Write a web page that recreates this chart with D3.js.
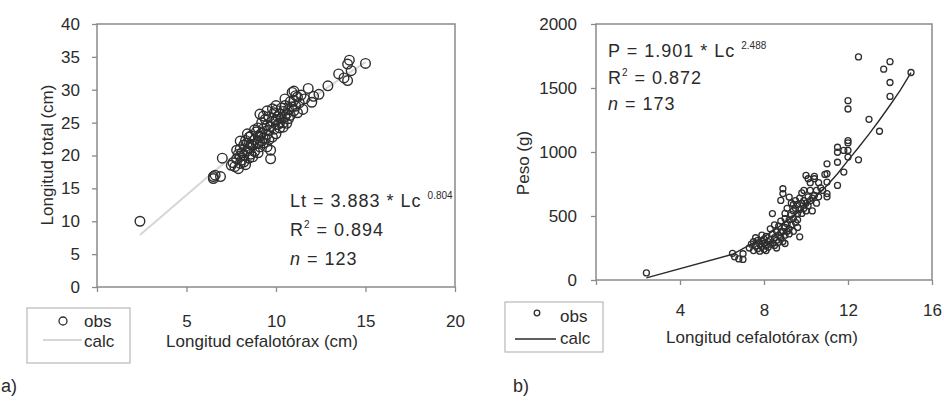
<!DOCTYPE html>
<html><head><meta charset="utf-8">
<script src="https://cdn.jsdelivr.net/npm/d3@7"></script>
<style>
html,body{margin:0;padding:0;background:#fff;}
svg text{font-family:"Liberation Sans",Arial,sans-serif;fill:#2b2b2b;}
</style></head>
<body><svg id="c" width="944" height="401"></svg>
<script>
// ---- Panel a) data : Longitud cefalotórax (Lc, cm) vs Longitud total (Lt, cm)
const aObsLc = [2.4,6.5,6.5,6.6,6.9,7.0,7.6,7.7,7.8,7.9,7.9,8.0,8.0,8.0,8.1,8.1,8.2,8.2,8.3,8.3,8.4,8.4,8.5,8.5,8.5,8.6,8.6,8.7,8.7,8.8,8.8,8.9,8.9,9.0,9.0,9.0,9.1,9.1,9.1,9.2,9.2,9.3,9.3,9.4,9.4,9.5,9.5,9.5,9.6,9.6,9.7,9.7,9.7,9.8,9.8,9.9,9.9,10.0,10.0,10.0,10.1,10.1,10.2,10.2,10.3,10.3,10.4,10.4,10.4,10.5,10.5,10.6,10.6,10.7,10.8,10.8,10.9,10.9,11.0,11.0,11.1,11.1,11.2,11.3,11.5,11.6,11.8,12.0,12.1,12.4,12.9,13.5,13.8,14.0,14.0,14.1,14.2,15.0,
  7.5,7.8,8.0,8.2,8.4,8.6,8.8,9.0,9.2,9.3,9.5,9.6,9.8,10.0,10.2,10.5,10.7,11.0,11.2,11.4];
const aObsLt = [10.0,16.5,16.8,17.0,16.8,19.6,18.9,18.3,19.5,20.2,18.0,18.8,19.9,21.0,20.4,19.3,21.6,20.0,22.3,18.6,20.7,21.9,19.6,22.8,21.2,20.2,23.0,21.5,19.8,22.4,20.6,21.8,23.6,22.0,20.4,24.2,21.3,22.9,26.3,23.4,25.0,21.9,24.1,22.6,25.5,23.2,24.6,21.3,25.9,23.8,24.4,20.8,19.5,25.2,22.8,26.5,24.0,25.4,23.3,26.9,24.7,25.9,26.3,24.2,25.6,27.2,25.0,26.7,24.3,27.6,25.9,26.4,24.9,27.0,26.1,28.2,27.4,29.6,28.4,26.8,29.1,27.5,26.5,28.0,27.0,28.6,30.2,28.1,29.0,29.3,30.6,32.4,31.8,31.4,33.9,34.5,32.9,34.0,
  18.5,20.8,22.2,19.0,23.3,21.7,23.9,23.0,22.2,26.0,26.8,22.4,27.1,27.6,25.0,28.6,25.6,29.8,28.9,29.2];
const aCalcLc = [2.4,6.5,7,8,9,10,11,12,13,14,15];
const aCalcLt = [7.9,17.5,18.6,20.8,22.8,24.8,26.8,28.7,30.6,32.4,34.2];
const aXTicks = [0,5,10,15,20];
const aYTicks = [0,5,10,15,20,25,30,35,40];

// ---- Panel b) data : Longitud cefalotórax (Lc, cm) vs Peso (P, g)
const bObsLc = [2.4,6.5,6.6,6.8,7.0,7.0,7.3,7.4,7.5,7.5,7.6,7.7,7.7,7.8,7.8,7.9,7.9,8.0,8.0,8.0,8.1,8.1,8.2,8.2,8.3,8.3,8.4,8.4,8.4,8.5,8.5,8.6,8.6,8.6,8.7,8.7,8.7,8.8,8.8,8.8,8.9,8.9,8.9,8.9,9.0,9.0,9.0,9.0,9.1,9.1,9.1,9.2,9.2,9.2,9.3,9.3,9.3,9.4,9.4,9.4,9.5,9.5,9.5,9.6,9.6,9.6,9.7,9.7,9.7,9.8,9.8,9.8,9.9,9.9,10.0,10.0,10.0,10.1,10.1,10.1,10.2,10.2,10.3,10.4,10.4,10.4,10.5,10.5,10.6,10.7,10.9,11.0,11.0,11.0,11.0,11.0,11.5,11.5,11.5,11.5,11.8,11.8,12.0,12.0,12.0,12.0,12.0,12.0,12.5,12.5,13.0,13.5,13.7,14.0,14.0,14.0,15.0,
  7.6,7.9,8.1,8.3,8.5,8.8,9.0,9.2,9.4,9.6,9.9,10.2,10.3,10.6,10.8];
const bObsP = [55,208,181,165,161,205,250,280,230,300,265,245,310,280,225,300,260,320,240,285,270,340,300,255,315,280,360,290,519,330,270,310,380,250,350,295,420,330,460,622,380,300,675,713,410,350,520,285,440,380,560,470,400,648,510,430,600,480,540,380,560,450,620,520,590,470,337,550,640,600,520,680,560,620,600,817,540,650,791,580,620,700,640,791,660,809,600,700,650,720,825,908,830,765,675,650,1037,998,920,739,843,1012,1089,1071,1012,960,1401,1336,1743,939,1255,1162,1647,1706,1543,1434,1621,
  330,350,230,400,430,370,480,360,590,410,700,760,540,760,700];
const bCalcLc = [2.4,6.5,7,7.5,8,8.5,9,9.5,10,10.5,11,11.5,12,12.5,13,13.5,14,14.5,15];
const bCalcP = [17,201,245,291,336,392,449,513,583,657,739,830,935,1035,1140,1250,1365,1485,1620];
const bXTicks = [0,4,8,12,16];
const bYTicks = [0,500,1000,1500,2000];

const svg = d3.select("#c");

function panel(cfg){
  const x = d3.scaleLinear().domain(cfg.xDom).range([cfg.l, cfg.r]);
  const y = d3.scaleLinear().domain(cfg.yDom).range([cfg.b, cfg.t]);
  const g = svg.append("g");
  // axes (x label at 0 is hidden behind the legend in the reference)
  const ax = g.append("g").attr("transform",`translate(0,${cfg.b})`)
    .call(d3.axisBottom(x).tickValues(cfg.xTicks).tickSize(5).tickPadding(cfg.xPad).tickFormat(d=>d===0?"":d3.format("d")(d)));
  const ay = g.append("g").attr("transform",`translate(${cfg.l},0)`)
    .call(d3.axisLeft(y).tickValues(cfg.yTicks).tickSize(5).tickPadding(cfg.yPad).tickFormat(d3.format("d")));
  [ax,ay].forEach(a=>{
    a.select(".domain").remove();
    a.selectAll("line").attr("stroke","#8a8a8a").attr("stroke-width",1.3);
    a.selectAll("text").style("font-size",cfg.fs+"px").style("font-family",'"Liberation Sans",Arial,sans-serif').attr("fill","#2b2b2b");
  });
  // frame
  g.append("rect").attr("x",cfg.l).attr("y",cfg.t).attr("width",cfg.r-cfg.l).attr("height",cfg.b-cfg.t)
    .attr("fill","none").attr("stroke","#8a8a8a").attr("stroke-width",1.5);
  // calc line
  const line = d3.line().x(d=>x(d[0])).y(d=>y(d[1]));
  g.append("path").datum(cfg.calcX.map((v,i)=>[v,cfg.calcY[i]]))
    .attr("d",line).attr("fill","none").attr("stroke",cfg.lineColor).attr("stroke-width",cfg.lineW);
  // obs
  g.append("g").selectAll("circle").data(cfg.obsX.map((v,i)=>[v,cfg.obsY[i]])).join("circle")
    .attr("cx",d=>x(d[0])).attr("cy",d=>y(d[1])).attr("r",cfg.rad)
    .attr("fill","none").attr("stroke","#2e2e2e").attr("stroke-width",cfg.sw);
  // axis titles
  g.append("text").attr("x",cfg.xtX).attr("y",cfg.xtY).attr("text-anchor","middle")
    .style("font-size",cfg.fs+"px").text("Longitud cefalotórax (cm)");
  g.append("text").attr("transform",`translate(${cfg.ytX},${cfg.ytY}) rotate(-90)`).attr("text-anchor","middle")
    .attr("dy","0.35em").style("font-size",cfg.fs+"px").text(cfg.yTitle);
  // equation
  const eq = g.append("g").style("font-size","18px");
  const t1 = eq.append("text").attr("x",cfg.eqX).attr("y",cfg.eqY[0]).style("letter-spacing","1px");
  t1.append("tspan").text(cfg.eqMain);
  t1.append("tspan").attr("dy",-8).style("font-size","10px").style("letter-spacing","0px").text(cfg.eqExp);
  const t2 = eq.append("text").attr("x",cfg.eqX).attr("y",cfg.eqY[1]).style("letter-spacing","1px");
  t2.append("tspan").text("R");
  t2.append("tspan").attr("dy",-8).style("font-size","10px").text("2");
  t2.append("tspan").attr("dy",8).text(" = "+cfg.r2);
  const t3 = eq.append("text").attr("x",cfg.eqX).attr("y",cfg.eqY[2]).style("letter-spacing","1px");
  t3.append("tspan").style("font-style","italic").text("n");
  t3.append("tspan").text(" = "+cfg.n);
  // legend
  const L = cfg.leg;
  g.append("rect").attr("x",L.x).attr("y",L.y).attr("width",L.w).attr("height",L.h)
    .attr("fill","#fff").attr("stroke","#b8b8b8").attr("stroke-width",1.2);
  g.append("circle").attr("cx",L.cx).attr("cy",L.cy).attr("r",L.cr).attr("fill","none").attr("stroke","#2e2e2e").attr("stroke-width",1.3);
  g.append("line").attr("x1",L.lx1).attr("x2",L.lx2).attr("y1",L.ly).attr("y2",L.ly).attr("stroke",cfg.lineColor).attr("stroke-width",cfg.lineW);
  g.append("text").attr("x",L.tx).attr("y",L.t1).style("font-size",cfg.fs+"px").text("obs");
  g.append("text").attr("x",L.tx).attr("y",L.t2).style("font-size",cfg.fs+"px").text("calc");
  // panel label
  g.append("text").attr("x",cfg.labX).attr("y",392).style("font-size","18px").text(cfg.lab);
}

panel({
  l:97, r:455, t:24, b:287, xDom:[0,20], yDom:[0,40],
  xTicks:aXTicks, yTicks:aYTicks, xPad:23, yPad:12, fs:17,
  calcX:aCalcLc, calcY:aCalcLt, lineColor:"#d6d6d6", lineW:2,
  obsX:aObsLc, obsY:aObsLt, rad:4.8, sw:1.4,
  xtX:262, xtY:347, ytX:47, ytY:155, yTitle:"Longitud total (cm)",
  eqX:290, eqY:[207,236,265], eqMain:"Lt = 3.883 * Lc ", eqExp:"0.804", r2:"0.894", n:"123",
  leg:{x:27,y:308,w:103,h:55,cx:63,cy:321,cr:4,lx1:43,lx2:82,ly:340,tx:84,t1:327,t2:347},
  lab:"a)", labX:1
});

panel({
  l:596, r:932, t:24, b:280, xDom:[0,16], yDom:[0,2000],
  xTicks:bXTicks, yTicks:bYTicks, xPad:19, yPad:14, fs:17,
  calcX:bCalcLc, calcY:bCalcP, lineColor:"#2a2a2a", lineW:1.4,
  obsX:bObsLc, obsY:bObsP, rad:3, sw:1.3,
  xtX:762, xtY:343, ytX:523, ytY:163, yTitle:"Peso (g)",
  eqX:608, eqY:[57,84,110], eqMain:"P = 1.901 * Lc ", eqExp:"2.488", r2:"0.872", n:"173",
  leg:{x:505,y:302,w:98,h:50,cx:537,cy:313,cr:2.8,lx1:515,lx2:556,ly:339,tx:560,t1:322,t2:344},
  lab:"b)", labX:513
});
</script></body></html>
